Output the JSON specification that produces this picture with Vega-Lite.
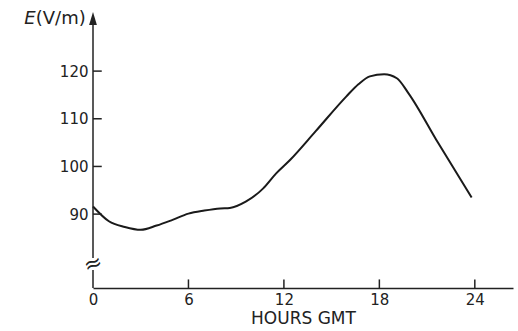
{
  "$schema": "https://vega.github.io/schema/vega-lite/v6.json",
  "width": 420,
  "height": 276,
  "autosize": {"type": "none"},
  "padding": {"left": 93, "top": 12, "right": 5, "bottom": 43},
  "config": {"view": {"stroke": null}, "font": "DejaVu Sans"},
  "datasets": {
    "curve": [
      {"hour": 0, "E": 91.6}, {"hour": 1, "E": 88.5}, {"hour": 2, "E": 87.3}, {"hour": 3, "E": 86.7},
      {"hour": 4, "E": 87.6}, {"hour": 5, "E": 88.8}, {"hour": 6, "E": 90.1}, {"hour": 7, "E": 90.75},
      {"hour": 8, "E": 91.2}, {"hour": 8.6, "E": 91.3}, {"hour": 9.6, "E": 92.6}, {"hour": 10.7, "E": 95.4},
      {"hour": 11.5, "E": 98.5}, {"hour": 12.4, "E": 101.4}, {"hour": 14, "E": 107.4}, {"hour": 15.9, "E": 114.6},
      {"hour": 16.7, "E": 117.3}, {"hour": 17.4, "E": 118.9}, {"hour": 18.3, "E": 119.35}, {"hour": 19.1, "E": 118.5},
      {"hour": 19.8, "E": 115.5}, {"hour": 21.7, "E": 104.9}, {"hour": 23.8, "E": 93.5}
    ],
    "axisline": [
      {"hour": 0, "E": 74.5, "E2": 78.3},
      {"hour": 0, "E": 80.8, "E2": 130.5}
    ],
    "yticks": [
      {"hour": 0, "hour2": 0.55, "E": 90}, {"hour": 0, "hour2": 0.55, "E": 100},
      {"hour": 0, "hour2": 0.55, "E": 110}, {"hour": 0, "hour2": 0.55, "E": 120}
    ],
    "xticks": [
      {"hour": 6, "E": 74.5, "E2": 76.3}, {"hour": 12, "E": 74.5, "E2": 76.3},
      {"hour": 18, "E": 74.5, "E2": 76.3}, {"hour": 24, "E": 74.5, "E2": 76.3}
    ],
    "arrow": [{"hour": 0, "E": 131.05}],
    "brk": [{"hour": 0, "E": 79.6, "text": "≈"}],
    "unitE": [{"hour": -3.6, "E": 130.9, "text": "E"}],
    "unitV": [{"hour": -3.6, "E": 130.9, "text": "(V/m)"}]
  },
  "layer": [
    {
      "data": {"name": "curve"},
      "mark": {"type": "line", "interpolate": "monotone", "color": "#1a1a1a", "strokeWidth": 2},
      "encoding": {
        "x": {
          "field": "hour", "type": "quantitative",
          "scale": {"domain": [0, 26.4], "nice": false, "zero": false},
          "axis": {
            "values": [0, 6, 12, 18, 24], "grid": false, "ticks": false, "labelFlush": false,
            "domainColor": "#222", "domainWidth": 1.5, "labelFontSize": 15, "labelColor": "#222", "labelPadding": 4,
            "title": "HOURS GMT", "titleFontSize": 17, "titleFontWeight": "normal", "titleColor": "#222", "titlePadding": 3
          }
        },
        "y": {
          "field": "E", "type": "quantitative",
          "scale": {"domain": [74.5, 132.4], "nice": false, "zero": false},
          "axis": {
            "values": [90, 100, 110, 120], "grid": false, "domain": false, "ticks": false,
            "labelFontSize": 15, "labelColor": "#222", "labelPadding": 5, "title": null
          }
        }
      }
    },
    {
      "data": {"name": "axisline"},
      "mark": {"type": "rule", "color": "#222", "strokeWidth": 1.5},
      "encoding": {
        "x": {"field": "hour", "type": "quantitative"},
        "y": {"field": "E", "type": "quantitative"},
        "y2": {"field": "E2"}
      }
    },
    {
      "data": {"name": "yticks"},
      "mark": {"type": "rule", "color": "#222", "strokeWidth": 1.5},
      "encoding": {
        "x": {"field": "hour", "type": "quantitative"},
        "x2": {"field": "hour2"},
        "y": {"field": "E", "type": "quantitative"}
      }
    },
    {
      "data": {"name": "xticks"},
      "mark": {"type": "rule", "color": "#222", "strokeWidth": 1.5},
      "encoding": {
        "x": {"field": "hour", "type": "quantitative"},
        "y": {"field": "E", "type": "quantitative"},
        "y2": {"field": "E2"}
      }
    },
    {
      "data": {"name": "arrow"},
      "mark": {"type": "point", "shape": "M0,-1L0.6,1L-0.6,1Z", "filled": true, "color": "#222", "size": 169, "opacity": 1},
      "encoding": {
        "x": {"field": "hour", "type": "quantitative"},
        "y": {"field": "E", "type": "quantitative"}
      }
    },
    {
      "data": {"name": "brk"},
      "mark": {"type": "text", "fontSize": 22, "angle": -20, "color": "#222", "baseline": "middle", "align": "center"},
      "encoding": {
        "x": {"field": "hour", "type": "quantitative"},
        "y": {"field": "E", "type": "quantitative"},
        "text": {"field": "text"}
      }
    },
    {
      "data": {"name": "unitE"},
      "mark": {"type": "text", "fontSize": 18, "color": "#222", "baseline": "middle", "align": "right", "fontStyle": "italic"},
      "encoding": {
        "x": {"field": "hour", "type": "quantitative"},
        "y": {"field": "E", "type": "quantitative"},
        "text": {"field": "text"}
      }
    },
    {
      "data": {"name": "unitV"},
      "mark": {"type": "text", "fontSize": 18, "color": "#222", "baseline": "middle", "align": "left"},
      "encoding": {
        "x": {"field": "hour", "type": "quantitative"},
        "y": {"field": "E", "type": "quantitative"},
        "text": {"field": "text"}
      }
    }
  ]
}
